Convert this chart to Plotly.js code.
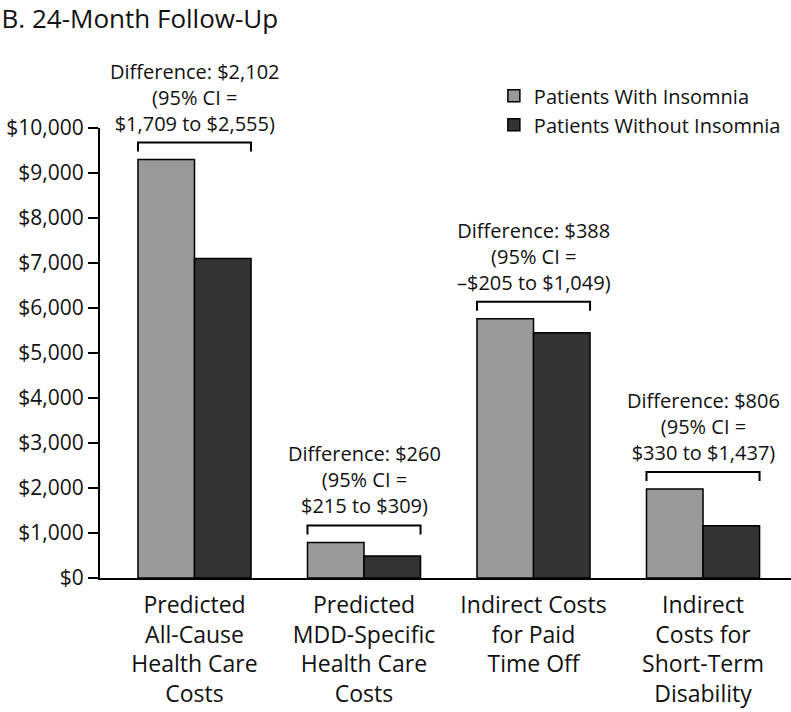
<!DOCTYPE html>
<html>
<head>
<meta charset="utf-8">
<script src="https://cdn.plot.ly/plotly-3.0.1.min.js"></script>
<style>html,body{margin:0;padding:0;background:#fff;}#chart{width:791px;height:712px;}</style>
</head>
<body>
<div id="chart"></div>
<script>
var categories = [
  'Predicted<br>All-Cause<br>Health Care<br>Costs',
  'Predicted<br>MDD-Specific<br>Health Care<br>Costs',
  'Indirect Costs<br>for Paid<br>Time Off',
  'Indirect<br>Costs for<br>Short-Term<br>Disability'
];
var seriesNames = ['Patients With Insomnia', 'Patients Without Insomnia'];
var withInsomnia = [9300, 790, 5760, 1980];
var withoutInsomnia = [7100, 490, 5450, 1160];
var diffLabels = [
  'Difference: $2,102<br>(95% CI =<br>$1,709 to $2,555)',
  'Difference: $260<br>(95% CI =<br>$215 to $309)',
  'Difference: $388<br>(95% CI =<br>\u2013$205 to $1,049)',
  'Difference: $806<br>(95% CI =<br>$330 to $1,437)'
];
var yTicks = [0, 1000, 2000, 3000, 4000, 5000, 6000, 7000, 8000, 9000, 10000];
var yTickLabels = ['$0', '$1,000', '$2,000', '$3,000', '$4,000', '$5,000',
                   '$6,000', '$7,000', '$8,000', '$9,000', '$10,000'];

var FONT = '"Open Sans", "Noto Sans", sans-serif';
var xs = categories.map(function (c, i) { return i; });
var bargap = 0.333;
var half = (1 - bargap) / 2;
var perPx = 10000 / 450;

var traces = [
  {type: 'bar', name: seriesNames[0], x: xs, y: withInsomnia,
   marker: {color: '#999999', line: {color: '#000', width: 1.5}}, hoverinfo: 'y'},
  {type: 'bar', name: seriesNames[1], x: xs, y: withoutInsomnia,
   marker: {color: '#333333', line: {color: '#000', width: 1.5}}, hoverinfo: 'y'}
];

var shapes = [], annotations = [];
xs.forEach(function (i) {
  var top = Math.max(withInsomnia[i], withoutInsomnia[i]);
  var yl = top + 17 * perPx, yb = top + 8 * perPx;
  var x0 = i - half, x1 = i + half;
  shapes.push({type: 'path', xref: 'x', yref: 'y',
    path: 'M' + x0 + ',' + yb + ' L' + x0 + ',' + yl + ' L' + x1 + ',' + yl + ' L' + x1 + ',' + yb,
    line: {color: '#000', width: 2}});
  annotations.push({xref: 'x', yref: 'y', x: i, y: yl, yanchor: 'bottom', xanchor: 'center',
    yshift: 4, text: diffLabels[i], showarrow: false, align: 'center',
    font: {family: FONT, size: 20, color: '#111'}});
});

var layout = {
  width: 791, height: 712,
  margin: {l: 100, r: 0, t: 128, b: 134},
  paper_bgcolor: '#fff', plot_bgcolor: '#fff',
  font: {family: FONT, color: '#111'},
  title: {text: 'B. 24-Month Follow-Up', xref: 'container', yref: 'container',
    x: 0.002, xanchor: 'left', y: 0.986, yanchor: 'top',
    font: {family: FONT, size: 26, color: '#111'}},
  barmode: 'group', bargap: bargap, bargroupgap: 0,
  showlegend: true,
  legend: {x: 0.57, xanchor: 'left', y: 1.115, yanchor: 'top',
    bgcolor: 'rgba(0,0,0,0)', font: {family: FONT, size: 20, color: '#111'},
    traceorder: 'normal'},
  xaxis: {range: [-0.5575, 3.519], tickvals: xs, ticktext: categories,
    showline: true, linecolor: '#000', linewidth: 2, ticks: '', showgrid: false,
    zeroline: false, fixedrange: true, ticklabelstandoff: 5,
    tickfont: {family: FONT, size: 23, color: '#111'}},
  yaxis: {range: [0, 10000], tickmode: 'array', tickvals: yTicks, ticktext: yTickLabels,
    showline: true, linecolor: '#000', linewidth: 2, ticks: 'outside', ticklen: 10,
    tickwidth: 2, tickcolor: '#000', showgrid: false, zeroline: false, fixedrange: true,
    tickfont: {family: FONT, size: 21, color: '#111'}},
  shapes: shapes,
  annotations: annotations
};

Plotly.newPlot('chart', traces, layout, {displayModeBar: false, staticPlot: true});
</script>
</body>
</html>
